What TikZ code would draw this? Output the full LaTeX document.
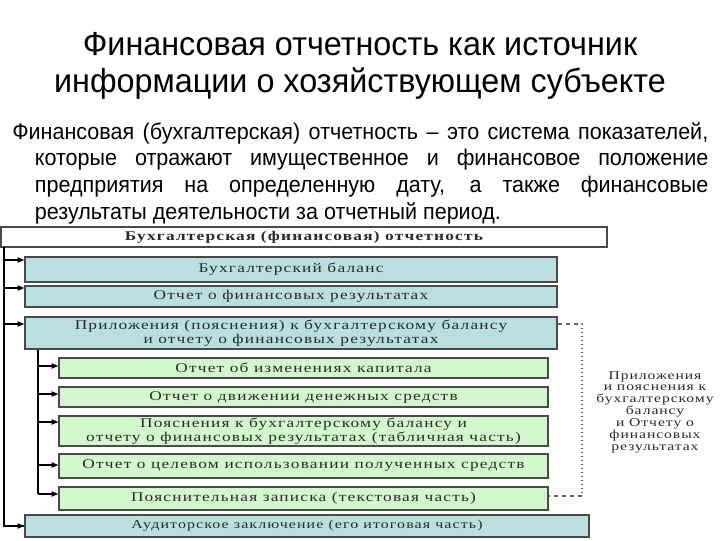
\documentclass[tikz,border=0pt]{standalone}
\usepackage{fontspec}
\usetikzlibrary{arrows.meta}
\setmainfont{Liberation Sans}
\newfontfamily\titlefont[FakeStretch=0.97]{Liberation Sans}
\newfontfamily\parafont[FakeStretch=0.95]{Liberation Sans}
\newfontfamily\boxfont[FakeStretch=1.3,LetterSpace=9]{Liberation Serif}
\newfontfamily\notefont[FakeStretch=1.3,LetterSpace=8]{Liberation Serif}
\definecolor{bluebox}{HTML}{B9DFE0}
\definecolor{greenbox}{HTML}{D2F7CC}
\definecolor{boxline}{HTML}{4A4A4A}
\definecolor{boxtext}{HTML}{2A2A2A}
\definecolor{dashcol}{HTML}{666666}
\tikzset{
  box/.style={draw=boxline, line width=1.1pt, inner sep=0pt, align=center, text=boxtext,
    font=\boxfont\fontsize{10pt}{10.5pt}\selectfont},
  bluebx/.style={box, fill=bluebox},
  greenbx/.style={box, fill=greenbox},
  arr/.style={line width=0.8pt, -{Triangle[length=5pt,width=4pt]}},
  trunk/.style={line width=0.8pt},
  titletext/.style={font=\titlefont\fontsize{25pt}{28pt}\selectfont, anchor=base, inner sep=0pt},
}
\begin{document}
\begin{tikzpicture}[x=0.75pt,y=-0.75pt]
\useasboundingbox (0,0) rectangle (720,540);
\fill[white] (0,0) rectangle (720,540);
% title
\node[titletext] (title1) at (360,55) {Финансовая отчетность как источник};
\node[titletext] (title2) at (360,92) {информации о хозяйствующем субъекте};
% definition
\node[font=\parafont\fontsize{17pt}{20pt}\selectfont, text width=522pt, align=justify,
  inner sep=0pt, anchor=north west] (defn) at (12,122)
  {\hangindent=17pt\hangafter=1 Финансовая (бухгалтерская) отчетность – это система показателей,\linebreak
   которые отражают имущественное и финансовое положение\linebreak
   предприятия на определенную дату, а также финансовые\linebreak
   результаты деятельности за отчетный период.\par};
% boxes
\node[box, fill=white, minimum width=606*0.75pt, minimum height=20*0.75pt] (top) at (304,237)
  {\bfseries Бухгалтерская (финансовая) отчетность};
\node[bluebx, minimum width=532*0.75pt, minimum height=25*0.75pt] (b1) at (291,269.5)
  {Бухгалтерский баланс};
\node[bluebx, minimum width=532*0.75pt, minimum height=21*0.75pt] (b2) at (291,296.5)
  {Отчет о финансовых результатах};
\node[bluebx, minimum width=532*0.75pt, minimum height=32*0.75pt] (b3) at (291,333)
  {Приложения (пояснения) к бухгалтерскому балансу\\и отчету о финансовых результатах};
\node[greenbx, minimum width=489*0.75pt, minimum height=20*0.75pt] (g1) at (303.5,368)
  {Отчет об изменениях капитала};
\node[greenbx, minimum width=489*0.75pt, minimum height=20*0.75pt] (g2) at (303.5,397)
  {Отчет о движении денежных средств};
\node[greenbx, minimum width=489*0.75pt, minimum height=30*0.75pt] (g3) at (303.5,431)
  {Пояснения к бухгалтерскому балансу и\\отчету о финансовых результатах (табличная часть)};
\node[greenbx, minimum width=489*0.75pt, minimum height=24*0.75pt] (g4) at (303.5,466)
  {Отчет о целевом использовании полученных средств};
\node[greenbx, minimum width=489*0.75pt, minimum height=23*0.75pt] (g5) at (303.5,498.5)
  {Пояснительная записка (текстовая часть)};
\node[bluebx, minimum width=564*0.75pt, minimum height=22*0.75pt,
  font=\boxfont\fontsize{9.2pt}{10pt}\selectfont] (aud) at (307,526)
  {Аудиторское заключение (его итоговая часть)};
% side note
\node[font=\notefont\fontsize{9pt}{8.9pt}\selectfont, text=boxtext, align=center] (note) at (655,412)
  {Приложения\\и пояснения к\\бухгалтерскому\\балансу\\и Отчету о\\финансовых\\результатах};
% outer trunk
\coordinate (o0) at (4,247);
\coordinate (a1) at (4,260);
\coordinate (a2) at (4,288);
\coordinate (a3) at (4,324);
\draw[trunk] (o0) |- (aud.west);
\draw[arr] (o0 |- aud.west) -- (aud.west);
\draw[arr] (a1) -- (a1 -| b1.west);
\draw[arr] (a2) -- (a2 -| b2.west);
\draw[arr] (a3) -- (a3 -| b3.west);
% inner trunk
\coordinate (c1) at (38,366);
\coordinate (c2) at (38,394);
\coordinate (c3) at (38,422);
\coordinate (c4) at (38,465);
\coordinate (c5) at (38,494);
\draw[trunk] (b3.south -| c1) -- (c5);
\draw[arr] (c1) -- (c1 -| g1.west);
\draw[arr] (c2) -- (c2 -| g2.west);
\draw[arr] (c3) -- (c3 -| g3.west);
\draw[arr] (c4) -- (c4 -| g4.west);
\draw[arr] (c5) -- (c5 -| g5.west);
% dashed bracket
\coordinate (d1) at (582,324);
\coordinate (d2) at (582,496);
\draw[dashcol, dashed, line width=0.8pt] (d1 -| b3.east) -- (d1);
\draw[dashcol, dotted, line width=1pt] (d1) -- (d2);
\draw[dashcol, dashed, line width=0.8pt] (d2) -- (d2 -| g5.east);
\end{tikzpicture}
\end{document}
